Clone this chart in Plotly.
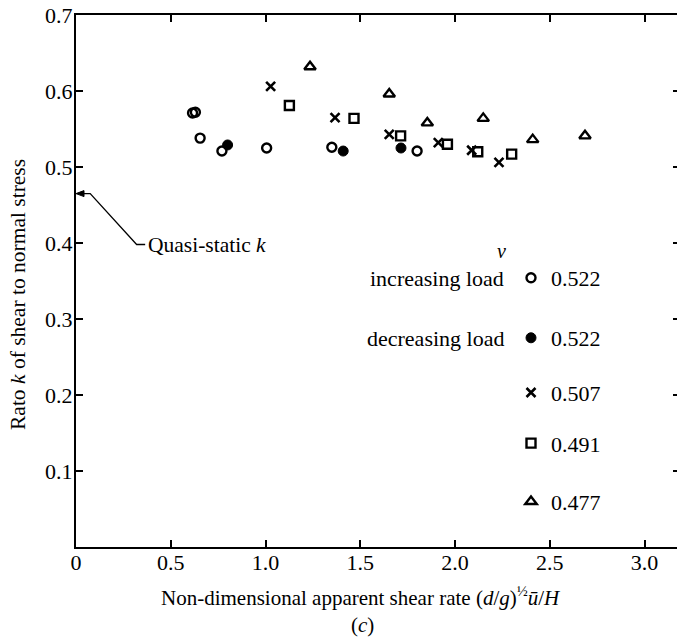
import plotly.graph_objects as go

# ---- data ----
inc_x = [0.615, 0.630, 0.655, 0.770, 1.006, 1.350, 1.800]
inc_y = [0.571, 0.572, 0.538, 0.521, 0.525, 0.526, 0.521]

dec_x = [0.800, 1.410, 1.715]
dec_y = [0.529, 0.521, 0.525]

x507_x = [1.027, 1.367, 1.653, 1.912, 2.088, 2.232]
x507_y = [0.606, 0.565, 0.543, 0.532, 0.522, 0.506]

sq491_x = [1.126, 1.467, 1.713, 1.960, 2.120, 2.299]
sq491_y = [0.581, 0.564, 0.541, 0.530, 0.520, 0.517]

tri477_x = [1.235, 1.653, 1.854, 2.149, 2.410, 2.686]
tri477_y = [0.632, 0.596, 0.558, 0.564, 0.536, 0.541]

QUASI_STATIC_K = 0.465

x_tickvals = [0, 0.5, 1.0, 1.5, 2.0, 2.5, 3.0]
x_ticktext = ["0", "0.5", "1.0", "1.5", "2.0", "2.5", "3.0"]
y_tickvals = [0.1, 0.2, 0.3, 0.4, 0.5, 0.6, 0.7]
y_ticktext = ["0.1", "0.2", "0.3", "0.4", "0.5", "0.6", "0.7"]

series_names = ["0.522", "0.522", "0.507", "0.491", "0.477"]

FONT = "Liberation Serif"
W, H = 677, 639
ML, MR, MT, MB = 76, 0, 15, 92

fig = go.Figure()

specs = [
    (inc_x, inc_y, "circle-open", 9, 2.4, "legend"),
    (dec_x, dec_y, "circle", 10, 1, "legend2"),
    (x507_x, x507_y, "x-thin-open", 9, 2.6, "legend3"),
    (sq491_x, sq491_y, "square-open", 9, 2.4, "legend4"),
    (tri477_x, tri477_y, "triangle-up-open", 10, 2.4, "legend5"),
]
for (xs, ys, sym, sz, lw, lg), name in zip(specs, series_names):
    fig.add_trace(go.Scatter(
        x=xs, y=ys, mode="markers", name=name, legend=lg,
        marker=dict(symbol=sym, size=sz, color="black",
                    line=dict(color="black", width=lw)),
        showlegend=True,
    ))

# right-side inward ticks without a line
fig.add_trace(go.Scatter(x=[0], y=[0], yaxis="y2", mode="markers",
                         marker=dict(opacity=0), showlegend=False, hoverinfo="skip"))

legend_rows_px = [278, 338, 392.7, 443.3, 501.7]
plot_h = H - MT - MB
plot_w = W - ML - MR
legend_x = (511 - ML) / plot_w
legend_cfg = {}
for i, py in enumerate(legend_rows_px):
    key = "legend" if i == 0 else f"legend{i+1}"
    legend_cfg[key] = dict(
        x=legend_x, y=(H - MB - py) / plot_h, xanchor="left", yanchor="middle",
        bgcolor="rgba(0,0,0,0)", borderwidth=0, itemwidth=30,
        font=dict(family=FONT, size=22, color="black"),
    )

x_range_max = plot_w / 189.5

annotations = [
    dict(text="<i>ν</i>", xref="paper", yref="paper", x=(501 - ML) / plot_w,
         y=(H - MB - 251) / plot_h, showarrow=False, xanchor="center", yanchor="middle",
         font=dict(family=FONT, size=20, color="black")),
    dict(text="increasing load", xref="paper", yref="paper", x=(506 - ML) / plot_w,
         y=(H - MB - 278) / plot_h, showarrow=False, xanchor="right", yanchor="middle",
         font=dict(family=FONT, size=22, color="black")),
    dict(text="decreasing load", xref="paper", yref="paper", x=(506 - ML) / plot_w,
         y=(H - MB - 338) / plot_h, showarrow=False, xanchor="right", yanchor="middle",
         font=dict(family=FONT, size=22, color="black")),
    dict(text="Non-dimensional apparent shear rate (<i>d</i>/<i>g</i>)<sup>½</sup><i>ū</i>/<i>H</i>",
         xref="paper", yref="paper", x=(361 - ML) / plot_w, y=(H - MB - 596) / plot_h,
         showarrow=False, xanchor="center", yanchor="middle",
         font=dict(family=FONT, size=21, color="black")),
    dict(text="(<i>c</i>)", xref="paper", yref="paper", x=(362 - ML) / plot_w,
         y=(H - MB - 625) / plot_h, showarrow=False, xanchor="center", yanchor="middle",
         font=dict(family=FONT, size=21, color="black")),
    dict(text="Rato <i>k</i> of shear to normal stress", xref="paper", yref="paper",
         x=(18 - ML) / plot_w, y=(H - MB - 295) / plot_h, textangle=-90,
         showarrow=False, xanchor="center", yanchor="middle",
         font=dict(family=FONT, size=21.5, color="black")),
    dict(text="Quasi-static <i>k</i>", xref="x", yref="y", x=0.37, y=0.398,
         showarrow=False, xanchor="left", yanchor="middle",
         font=dict(family=FONT, size=21.5, color="black")),
]

shapes = [
    dict(type="path", xref="x", yref="y",
         path=f"M 0.02,{QUASI_STATIC_K} L 0.075,{QUASI_STATIC_K} L 0.32,0.398 L 0.365,0.398",
         line=dict(color="black", width=1.3)),
    # arrowhead pointing at the axis (pixel-sized, anchored at the quasi-static value)
    dict(type="path", xref="x", yref="y", xsizemode="pixel", ysizemode="pixel",
         xanchor=0, yanchor=QUASI_STATIC_K,
         path="M 0,0 L 8,3 L 8,-3 Z",
         fillcolor="black", line=dict(color="black", width=1)),
]

fig.update_layout(
    width=W, height=H,
    margin=dict(l=ML, r=MR, t=MT, b=MB),
    plot_bgcolor="white", paper_bgcolor="white",
    font=dict(family=FONT, size=20, color="black"),
    annotations=annotations, shapes=shapes,
    xaxis=dict(range=[0, x_range_max], tickvals=x_tickvals, ticktext=x_ticktext,
               ticks="inside", ticklen=7, tickwidth=1.5, tickcolor="black",
               showline=True, linecolor="black", linewidth=2, mirror="ticks",
               showgrid=False, zeroline=False, ticklabelstandoff=-5,
               tickfont=dict(family=FONT, size=22, color="black")),
    yaxis=dict(range=[0, 0.7], tickvals=y_tickvals, ticktext=y_ticktext,
               ticks="inside", ticklen=7, tickwidth=1.5, tickcolor="black",
               showline=True, linecolor="black", linewidth=2,
               showgrid=False, zeroline=False, ticklabelstandoff=-3,
               tickfont=dict(family=FONT, size=22, color="black")),
    yaxis2=dict(range=[0, 0.7], overlaying="y", side="right", tickvals=y_tickvals,
                ticks="inside", ticklen=4, tickwidth=1.5, tickcolor="black",
                showticklabels=False, showline=False, showgrid=False, zeroline=False),
    **legend_cfg,
)

fig.write_html("out.html")
